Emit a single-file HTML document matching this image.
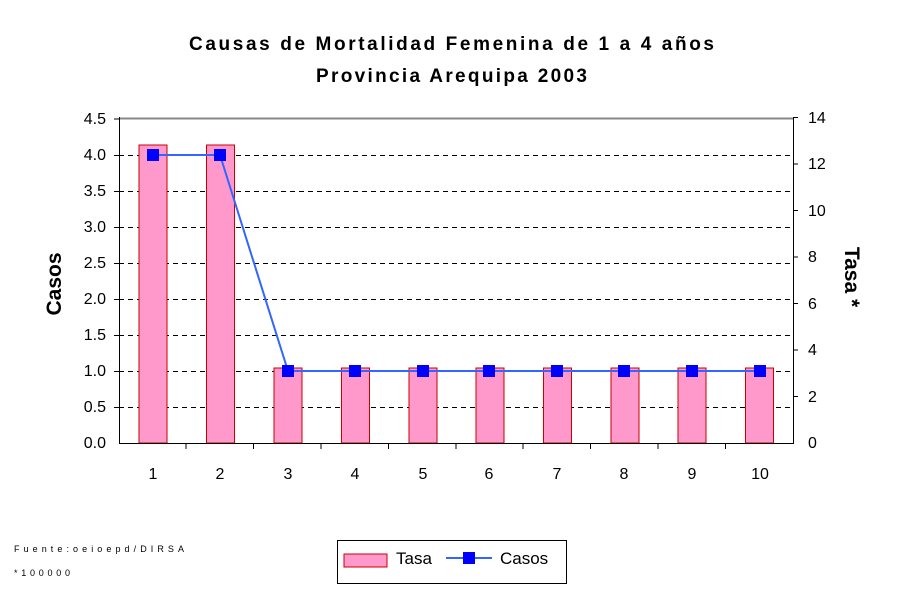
<!DOCTYPE html>
<html><head><meta charset="utf-8"><style>body{margin:0;background:#fff}svg{display:block}</style></head>
<body>
<svg width="900" height="600" xmlns="http://www.w3.org/2000/svg" font-family="Liberation Sans, Arial, sans-serif">
<rect width="900" height="600" fill="#fff"/>
<text x="189" y="50" font-size="19" font-weight="bold" textLength="525" lengthAdjust="spacing">Causas de Mortalidad Femenina de 1 a 4 años</text>
<text x="316" y="82" font-size="19" font-weight="bold" textLength="271" lengthAdjust="spacing">Provincia Arequipa 2003</text>
<line x1="119" y1="118.5" x2="793" y2="118.5" stroke="#888" stroke-width="2"/>
<g stroke="#000" stroke-dasharray="5,4" stroke-width="1">
<line x1="119" y1="155.5" x2="793" y2="155.5"/><line x1="119" y1="191.5" x2="793" y2="191.5"/>
<line x1="119" y1="227.5" x2="793" y2="227.5"/><line x1="119" y1="263.5" x2="793" y2="263.5"/>
<line x1="119" y1="299.5" x2="793" y2="299.5"/><line x1="119" y1="335.5" x2="793" y2="335.5"/>
<line x1="119" y1="371.5" x2="793" y2="371.5"/><line x1="119" y1="407.5" x2="793" y2="407.5"/>
</g>
<g fill="#ff99cc" stroke="#cc0000" stroke-width="1">
<rect x="139" y="145" width="28" height="298"/><rect x="206.5" y="145" width="28" height="298"/>
<rect x="274" y="368" width="28" height="75"/><rect x="341.5" y="368" width="28" height="75"/>
<rect x="409" y="368" width="28" height="75"/><rect x="476" y="368" width="28" height="75"/>
<rect x="543.5" y="368" width="28" height="75"/><rect x="611" y="368" width="28" height="75"/>
<rect x="678" y="368" width="28" height="75"/><rect x="745.5" y="368" width="28" height="75"/>
</g>
<line x1="119" y1="443.5" x2="793" y2="443.5" stroke="#000"/>
<line x1="119.5" y1="117" x2="119.5" y2="444" stroke="#000"/>
<line x1="793.5" y1="117" x2="793.5" y2="444" stroke="#000"/>
<g stroke="#000">
<line x1="114" y1="119" x2="119" y2="119"/><line x1="114" y1="155.5" x2="119" y2="155.5"/><line x1="114" y1="191.5" x2="119" y2="191.5"/><line x1="114" y1="227.5" x2="119" y2="227.5"/><line x1="114" y1="263.5" x2="119" y2="263.5"/><line x1="114" y1="299.5" x2="119" y2="299.5"/><line x1="114" y1="335.5" x2="119" y2="335.5"/><line x1="114" y1="371.5" x2="119" y2="371.5"/><line x1="114" y1="407.5" x2="119" y2="407.5"/>
<line x1="793" y1="117.5" x2="798" y2="117.5"/><line x1="793" y1="164" x2="798" y2="164"/><line x1="793" y1="210.5" x2="798" y2="210.5"/><line x1="793" y1="257" x2="798" y2="257"/><line x1="793" y1="303.5" x2="798" y2="303.5"/><line x1="793" y1="350" x2="798" y2="350"/><line x1="793" y1="396.5" x2="798" y2="396.5"/>
<line x1="186" y1="443" x2="186" y2="449"/><line x1="253.5" y1="443" x2="253.5" y2="449"/><line x1="321" y1="443" x2="321" y2="449"/><line x1="388.5" y1="443" x2="388.5" y2="449"/><line x1="456" y1="443" x2="456" y2="449"/><line x1="523" y1="443" x2="523" y2="449"/><line x1="590.5" y1="443" x2="590.5" y2="449"/><line x1="658" y1="443" x2="658" y2="449"/><line x1="725.5" y1="443" x2="725.5" y2="449"/>
</g>
<g font-size="16" text-anchor="end">
<text x="106" y="124">4.5</text><text x="106" y="160">4.0</text><text x="106" y="196">3.5</text><text x="106" y="232">3.0</text><text x="106" y="268">2.5</text><text x="106" y="304">2.0</text><text x="106" y="340">1.5</text><text x="106" y="376">1.0</text><text x="106" y="412">0.5</text><text x="106" y="448">0.0</text>
</g>
<g font-size="16">
<text x="808" y="123">14</text><text x="808" y="169">12</text><text x="808" y="216">10</text><text x="808" y="262">8</text><text x="808" y="309">6</text><text x="808" y="355">4</text><text x="808" y="402">2</text><text x="808" y="448">0</text>
</g>
<g font-size="16" text-anchor="middle">
<text x="153" y="479">1</text><text x="220" y="479">2</text><text x="288" y="479">3</text><text x="355" y="479">4</text><text x="423" y="479">5</text><text x="489" y="479">6</text><text x="557" y="479">7</text><text x="624" y="479">8</text><text x="692" y="479">9</text><text x="760" y="479">10</text>
</g>
<text transform="translate(61,284) rotate(-90)" text-anchor="middle" font-size="21" font-weight="bold">Casos</text>
<text transform="translate(845,277) rotate(90)" text-anchor="middle" font-size="21" font-weight="bold">Tasa *</text>
<polyline points="153,155 220,155 288,371 355,371 423,371 489,371 557,371 624,371 692,371 760,371" fill="none" stroke="#3366ff" stroke-width="2"/>
<g fill="#0000ff">
<rect x="147" y="149" width="12" height="12"/><rect x="214" y="149" width="12" height="12"/><rect x="282" y="365" width="12" height="12"/><rect x="349" y="365" width="12" height="12"/><rect x="417" y="365" width="12" height="12"/><rect x="483" y="365" width="12" height="12"/><rect x="551" y="365" width="12" height="12"/><rect x="618" y="365" width="12" height="12"/><rect x="686" y="365" width="12" height="12"/><rect x="754" y="365" width="12" height="12"/>
</g>
<text x="14" y="552" font-size="9" textLength="170" lengthAdjust="spacing">Fuente:oeioepd/DIRSA</text>
<text x="14" y="576" font-size="9" textLength="56" lengthAdjust="spacing">*100000</text>
<rect x="337.5" y="540.5" width="229" height="43" fill="#fff" stroke="#000"/>
<rect x="344" y="554" width="43" height="13" fill="#ff99cc" stroke="#cc0000"/>
<text x="396" y="564" font-size="17">Tasa</text>
<line x1="446" y1="558" x2="492" y2="558" stroke="#3366ff" stroke-width="2"/>
<rect x="463" y="552" width="12" height="12" fill="#0000ff"/>
<text x="500" y="564" font-size="17">Casos</text>
</svg>
</body></html>
